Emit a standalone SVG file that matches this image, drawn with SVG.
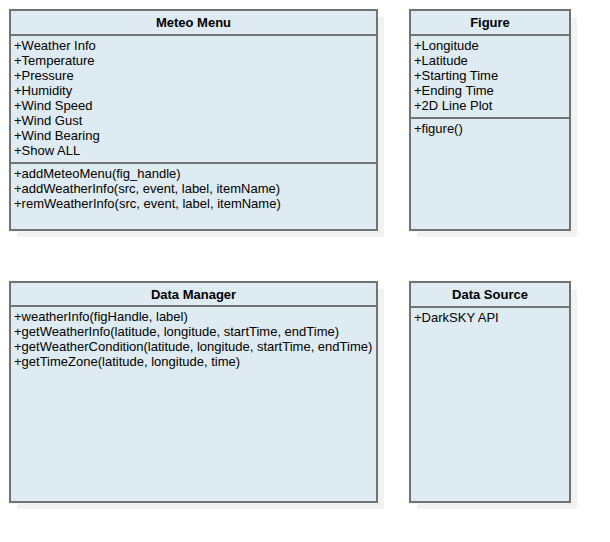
<svg xmlns="http://www.w3.org/2000/svg" width="610" height="542" viewBox="0 0 610 542">
<style>
.shadow{fill:#f2f2f2;stroke:none}
.box{fill:#dfebf2;stroke:#737373;stroke-width:2}
.sep{stroke:#737373;stroke-width:2;fill:none}
.title{font-family:"Liberation Sans",Arial,sans-serif;font-size:13px;font-weight:bold;fill:#000;text-anchor:middle}
.item{font-family:"Liberation Sans",Arial,sans-serif;font-size:13px;fill:#000}
</style>
<rect width="610" height="542" fill="#ffffff"/>
<g id="connectors"></g>
<g id="meteo-menu">
<rect class="shadow" x="17" y="17" width="367" height="220"/>
<rect class="box" x="10" y="10" width="367" height="220"/>
<line class="sep" x1="10" y1="35" x2="377" y2="35"/>
<line class="sep" x1="10" y1="163" x2="377" y2="163"/>
<text class="title" x="193.5" y="27">Meteo Menu</text>
<text class="item" x="14" y="50">+Weather Info</text>
<text class="item" x="14" y="65">+Temperature</text>
<text class="item" x="14" y="80">+Pressure</text>
<text class="item" x="14" y="95">+Humidity</text>
<text class="item" x="14" y="110">+Wind Speed</text>
<text class="item" x="14" y="125">+Wind Gust</text>
<text class="item" x="14" y="140">+Wind Bearing</text>
<text class="item" x="14" y="155">+Show ALL</text>
<text class="item" x="14" y="178">+addMeteoMenu(fig_handle)</text>
<text class="item" x="14" y="193">+addWeatherInfo(src, event, label, itemName)</text>
<text class="item" x="14" y="208">+remWeatherInfo(src, event, label, itemName)</text>
</g>
<g id="figure">
<rect class="shadow" x="417" y="17" width="160" height="220"/>
<rect class="box" x="410" y="10" width="160" height="220"/>
<line class="sep" x1="410" y1="35" x2="570" y2="35"/>
<line class="sep" x1="410" y1="118" x2="570" y2="118"/>
<text class="title" x="490" y="27">Figure</text>
<text class="item" x="414" y="50">+Longitude</text>
<text class="item" x="414" y="65">+Latitude</text>
<text class="item" x="414" y="80">+Starting Time</text>
<text class="item" x="414" y="95">+Ending Time</text>
<text class="item" x="414" y="110">+2D Line Plot</text>
<text class="item" x="414" y="133">+figure()</text>
</g>
<g id="data-manager">
<rect class="shadow" x="17" y="289" width="367" height="220"/>
<rect class="box" x="10" y="282" width="367" height="220"/>
<line class="sep" x1="10" y1="306" x2="377" y2="306"/>
<text class="title" x="193.5" y="299">Data Manager</text>
<text class="item" x="14" y="321">+weatherInfo(figHandle, label)</text>
<text class="item" x="14" y="336">+getWeatherInfo(latitude, longitude, startTime, endTime)</text>
<text class="item" x="14" y="351">+getWeatherCondition(latitude, longitude, startTime, endTime)</text>
<text class="item" x="14" y="366">+getTimeZone(latitude, longitude, time)</text>
</g>
<g id="data-source">
<rect class="shadow" x="417" y="289" width="160" height="220"/>
<rect class="box" x="410" y="282" width="160" height="220"/>
<line class="sep" x1="410" y1="307" x2="570" y2="307"/>
<text class="title" x="490" y="299">Data Source</text>
<text class="item" x="414" y="322">+DarkSKY API</text>
</g>
</svg>
